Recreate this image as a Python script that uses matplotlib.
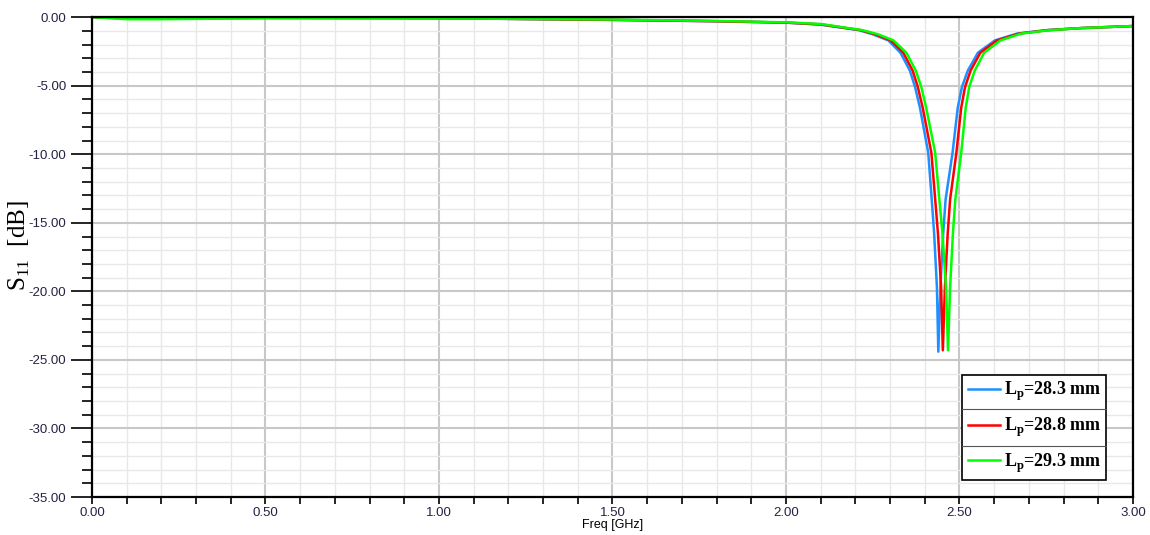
import matplotlib
matplotlib.use('Agg')
import matplotlib.pyplot as plt
from matplotlib.ticker import MultipleLocator, FormatStrFormatter
from matplotlib.lines import Line2D

# S11 曲线数据
freq_1 = [0.0, 0.1, 0.2, 0.5, 1.0, 1.5, 1.8, 2.0, 2.1, 2.21, 2.25, 2.295, 2.33, 2.357, 2.372,
          2.386, 2.41, 2.42, 2.427, 2.435, 2.439, 2.445, 2.453, 2.46, 2.48, 2.495, 2.507, 2.524,
          2.553, 2.602, 2.666, 2.75, 2.85, 2.95, 3.0]
s11_1 = [0.0, -0.08, -0.08, -0.05, -0.08, -0.2, -0.3, -0.4, -0.55, -0.95, -1.25, -1.7, -2.6,
         -3.9, -5.1, -6.6, -9.9, -13.3, -15.8, -19.7, -24.4, -19.7, -15.8, -13.3, -9.9, -6.6,
         -5.1, -3.9, -2.6, -1.7, -1.2, -0.95, -0.8, -0.7, -0.65]

freq_2 = [0.0, 0.1, 0.2, 0.5, 1.0, 1.5, 1.8, 2.0, 2.1, 2.215, 2.257, 2.302, 2.338, 2.365, 2.38,
          2.394, 2.419, 2.43, 2.438, 2.447, 2.452, 2.458, 2.466, 2.473, 2.491, 2.505, 2.516,
          2.532, 2.56, 2.608, 2.672, 2.755, 2.85, 2.95, 3.0]
s11_2 = [0.0, -0.1, -0.1, -0.06, -0.08, -0.2, -0.3, -0.4, -0.53, -0.95, -1.25, -1.7, -2.6,
         -3.9, -5.1, -6.6, -9.9, -13.3, -15.8, -19.7, -24.3, -19.7, -15.8, -13.3, -9.9, -6.6,
         -5.1, -3.9, -2.6, -1.7, -1.2, -0.95, -0.8, -0.7, -0.65]

freq_3 = [0.0, 0.1, 0.2, 0.5, 1.0, 1.5, 1.8, 2.0, 2.1, 2.22, 2.265, 2.31, 2.347, 2.374, 2.39,
          2.404, 2.43, 2.442, 2.451, 2.461, 2.467, 2.473, 2.481, 2.488, 2.505, 2.518, 2.528,
          2.544, 2.571, 2.618, 2.678, 2.76, 2.85, 2.95, 3.0]
s11_3 = [0.0, -0.15, -0.15, -0.08, -0.08, -0.18, -0.28, -0.38, -0.5, -0.95, -1.25, -1.7, -2.6,
         -3.9, -5.1, -6.6, -9.9, -13.3, -15.8, -19.7, -24.3, -19.7, -15.8, -13.3, -9.9, -6.6,
         -5.1, -3.9, -2.6, -1.7, -1.2, -0.95, -0.8, -0.7, -0.65]

labels = [r'L$_\mathregular{p}$=28.3 mm', r'L$_\mathregular{p}$=28.8 mm', r'L$_\mathregular{p}$=29.3 mm']
colors = ['#1E90FF', '#FF0000', '#00FF00']

fig = plt.figure(figsize=(11.5, 5.35), dpi=100)
ax = fig.add_axes([0.080, 0.071, 0.9052, 0.897])

ax.plot(freq_1, s11_1, color=colors[0], lw=1.8, label=labels[0])
ax.plot(freq_2, s11_2, color=colors[1], lw=1.8, label=labels[1])
ax.plot(freq_3, s11_3, color=colors[2], lw=1.8, label=labels[2])

ax.set_xlim(0, 3.0)
ax.set_ylim(-35, 0)
ax.xaxis.set_major_locator(MultipleLocator(0.5))
ax.xaxis.set_minor_locator(MultipleLocator(0.1))
ax.yaxis.set_major_locator(MultipleLocator(5))
ax.yaxis.set_minor_locator(MultipleLocator(1))
ax.xaxis.set_major_formatter(FormatStrFormatter('%.2f'))
ax.yaxis.set_major_formatter(FormatStrFormatter('%.2f'))

# 网格线
ax.grid(which='major', color='#c8c8c8', lw=1.5)
ax.grid(which='minor', color='#e8e8e8', lw=1.0)
ax.set_axisbelow(True)

for sp in ax.spines.values():
    sp.set_linewidth(1.6)
    sp.set_color('black')

ax.tick_params(axis='y', which='major', length=15, width=1.2, labelsize=9.5, labelcolor='#222244')
ax.tick_params(axis='y', which='minor', length=7, width=1.2)
ax.tick_params(axis='x', which='major', length=5, width=1.2, labelsize=9.5, labelcolor='#222244', pad=2)
ax.tick_params(axis='x', which='minor', length=5, width=1.2)
for t in ax.get_xticklabels() + ax.get_yticklabels():
    t.set_family('Liberation Sans')

ax.set_xlabel('Freq [GHz]', family='Liberation Sans', fontsize=9, labelpad=0)
ax.set_ylabel(r'S$_\mathregular{11}$  [dB]', family='Liberation Serif', fontsize=18)
ax.yaxis.set_label_coords(-0.0576, 0.523)

leg = ax.legend(loc='lower left', bbox_to_anchor=(0.836, 0.035, 0.138, 0.219), mode='expand',
                fancybox=False, edgecolor='black', framealpha=1, borderaxespad=0,
                prop={'family': 'Liberation Serif', 'weight': 'bold', 'size': 13},
                handlelength=1.8, handletextpad=0.2, labelspacing=0.7, borderpad=0.3)
leg.get_frame().set_linewidth(1.2)

# 图例分隔线
for yy in [0.106, 0.183]:
    ax.add_line(Line2D([0.836, 0.974], [yy, yy], transform=ax.transAxes, color='#555555',
                       lw=0.8, zorder=10))

fig.savefig('out.png', dpi=100)
